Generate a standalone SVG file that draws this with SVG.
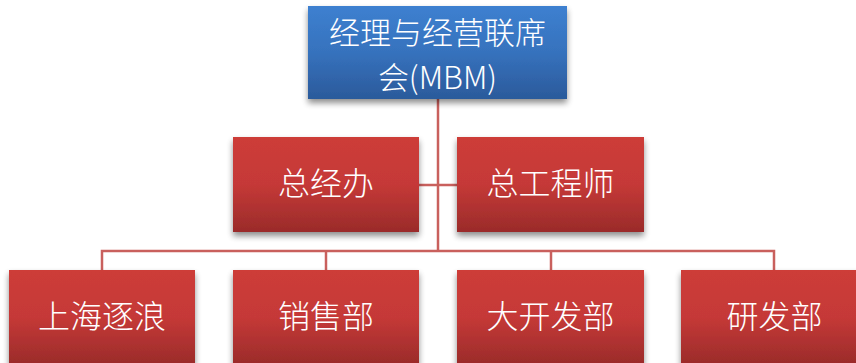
<svg xmlns="http://www.w3.org/2000/svg" width="856" height="363" viewBox="0 0 856 363">
<defs>
<linearGradient id="red" x1="0" y1="0" x2="0" y2="1">
<stop offset="0" stop-color="#cd3c39"/><stop offset="0.5" stop-color="#c53937"/><stop offset="1" stop-color="#9a2b2a"/>
</linearGradient>
<linearGradient id="blue" x1="0" y1="0" x2="0" y2="1">
<stop offset="0" stop-color="#3d80d0"/><stop offset="0.5" stop-color="#3672bd"/><stop offset="1" stop-color="#2b5a9b"/>
</linearGradient>
<filter id="sh" x="-10%" y="-10%" width="120%" height="130%">
<feGaussianBlur in="SourceAlpha" stdDeviation="3"/>
<feOffset dx="0" dy="4" result="b"/>
<feComponentTransfer><feFuncA type="linear" slope="0.45"/></feComponentTransfer>
<feMerge><feMergeNode/><feMergeNode in="SourceGraphic"/></feMerge>
</filter>
</defs>
<style>
.r{fill:url(#red);filter:url(#sh)}
.b{fill:url(#blue);filter:url(#sh)}
.t{fill:#ffffff;font-family:"Noto Sans CJK SC","Liberation Sans",sans-serif;font-size:32px;font-weight:300;text-anchor:middle;dominant-baseline:central}
.tt{font-size:31px}
.c{stroke:#c9605d;stroke-width:2.5;fill:none}
</style>
<g id="connectors">
<path class="c" d="M438 99 V251"/>
<path class="c" d="M419 185 H457"/>
<path class="c" d="M102 270 V251 H774 V270"/>
<path class="c" d="M326 251 V270"/>
<path class="c" d="M551 251 V270"/>
</g>
<g id="mbm">
<rect class="b" x="308" y="6" width="259" height="93"/>
<text class="t tt" x="437.5" y="30">经理与经营联席</text>
<text class="t tt" x="437.5" y="75">会(MBM)</text>
</g>
<g id="zjb">
<rect class="r" x="233" y="137" width="186" height="95"/>
<text class="t" x="326" y="181">总经办</text>
</g>
<g id="zgcs">
<rect class="r" x="457" y="137" width="187" height="95"/>
<text class="t" x="550.5" y="181">总工程师</text>
</g>
<g id="shzl">
<rect class="r" x="9" y="270" width="186" height="95"/>
<text class="t" x="102" y="314">上海逐浪</text>
</g>
<g id="xsb">
<rect class="r" x="233" y="270" width="186" height="95"/>
<text class="t" x="326" y="314">销售部</text>
</g>
<g id="dkfb">
<rect class="r" x="457" y="270" width="187" height="95"/>
<text class="t" x="550.5" y="314">大开发部</text>
</g>
<g id="yfb">
<rect class="r" x="681" y="270" width="187" height="95"/>
<text class="t" x="774.5" y="314">研发部</text>
</g>
</svg>
